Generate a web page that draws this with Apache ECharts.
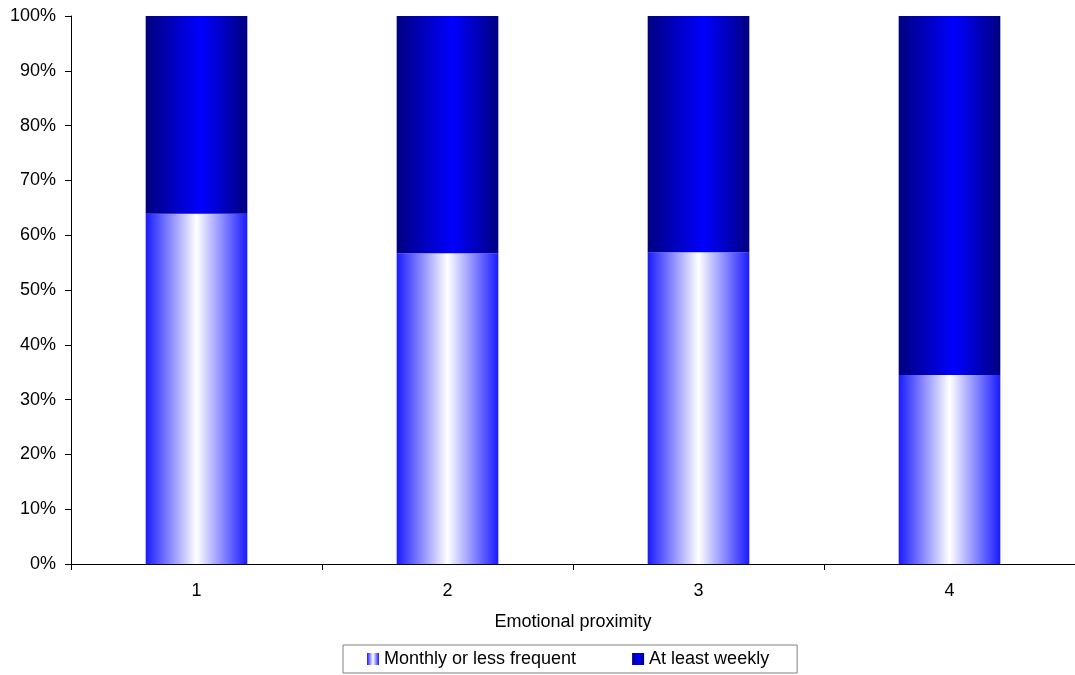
<!DOCTYPE html>
<html>
<head>
<meta charset="utf-8">
<script src="https://cdn.jsdelivr.net/npm/echarts@6/dist/echarts.min.js"></script>
<style>
html,body{margin:0;padding:0;background:#fff;}
#chart{width:1075px;height:675px;}
</style>
</head>
<body>
<div id="chart"></div>
<script>
const categories = ['1', '2', '3', '4'];
const monthlyOrLess = [63.9, 56.7, 56.9, 34.5];
const atLeastWeekly = [36.1, 43.3, 43.1, 65.5];
const seriesNames = ['Monthly or less frequent', 'At least weekly'];
const xAxisTitle = 'Emotional proximity';

const font = 'Liberation Sans, Arial, sans-serif';
const lightGrad = {
  type: 'linear', x: 0, y: 0, x2: 1, y2: 0,
  colorStops: [
    {offset: 0, color: '#1a1aff'},
    {offset: 0.5, color: '#ffffff'},
    {offset: 1, color: '#1a1aff'}
  ]
};
const darkGrad = {
  type: 'linear', x: 0, y: 0, x2: 1, y2: 0,
  colorStops: [
    {offset: 0, color: '#000080'},
    {offset: 0.55, color: '#0000ff'},
    {offset: 1, color: '#000080'}
  ]
};

const chart = echarts.init(document.getElementById('chart'));
chart.setOption({
  animation: false,
  backgroundColor: '#ffffff',
  grid: {left: 71, top: 16, right: -4, height: 548, containLabel: false},
  legend: {
    left: 343, top: 645,
    padding: [5, 28, 5, 24],
    borderColor: '#808080', borderWidth: 1,
    itemWidth: 12, itemHeight: 12, itemGap: 56,
    textStyle: {fontFamily: font, fontSize: 18, color: '#000'},
    data: [
      {name: seriesNames[0], icon: 'rect'},
      {name: seriesNames[1], icon: 'rect'}
    ]
  },
  xAxis: {
    type: 'category',
    data: categories,
    name: xAxisTitle,
    nameLocation: 'middle',
    nameGap: 49,
    nameTextStyle: {fontFamily: font, fontSize: 18, color: '#000'},
    axisLine: {lineStyle: {color: '#000', width: 1}},
    axisTick: {show: true, length: 6, alignWithLabel: false, lineStyle: {color: '#000'}},
    axisLabel: {fontFamily: font, fontSize: 18, color: '#000', margin: 18},
    splitLine: {show: false}
  },
  yAxis: {
    type: 'value',
    min: 0, max: 100, interval: 10,
    axisLine: {show: true, lineStyle: {color: '#000', width: 1}},
    axisTick: {show: true, length: 6, lineStyle: {color: '#000'}},
    axisLabel: {fontFamily: font, fontSize: 18, color: '#000', margin: 15, formatter: '{value}%'},
    splitLine: {show: false}
  },
  series: [
    {
      name: seriesNames[0], type: 'bar', stack: 'total',
      data: monthlyOrLess, barWidth: '40.5%',
      itemStyle: {color: lightGrad}
    },
    {
      name: seriesNames[1], type: 'bar', stack: 'total',
      data: atLeastWeekly, barWidth: '40.5%',
      itemStyle: {color: darkGrad}
    }
  ]
});
</script>
</body>
</html>
